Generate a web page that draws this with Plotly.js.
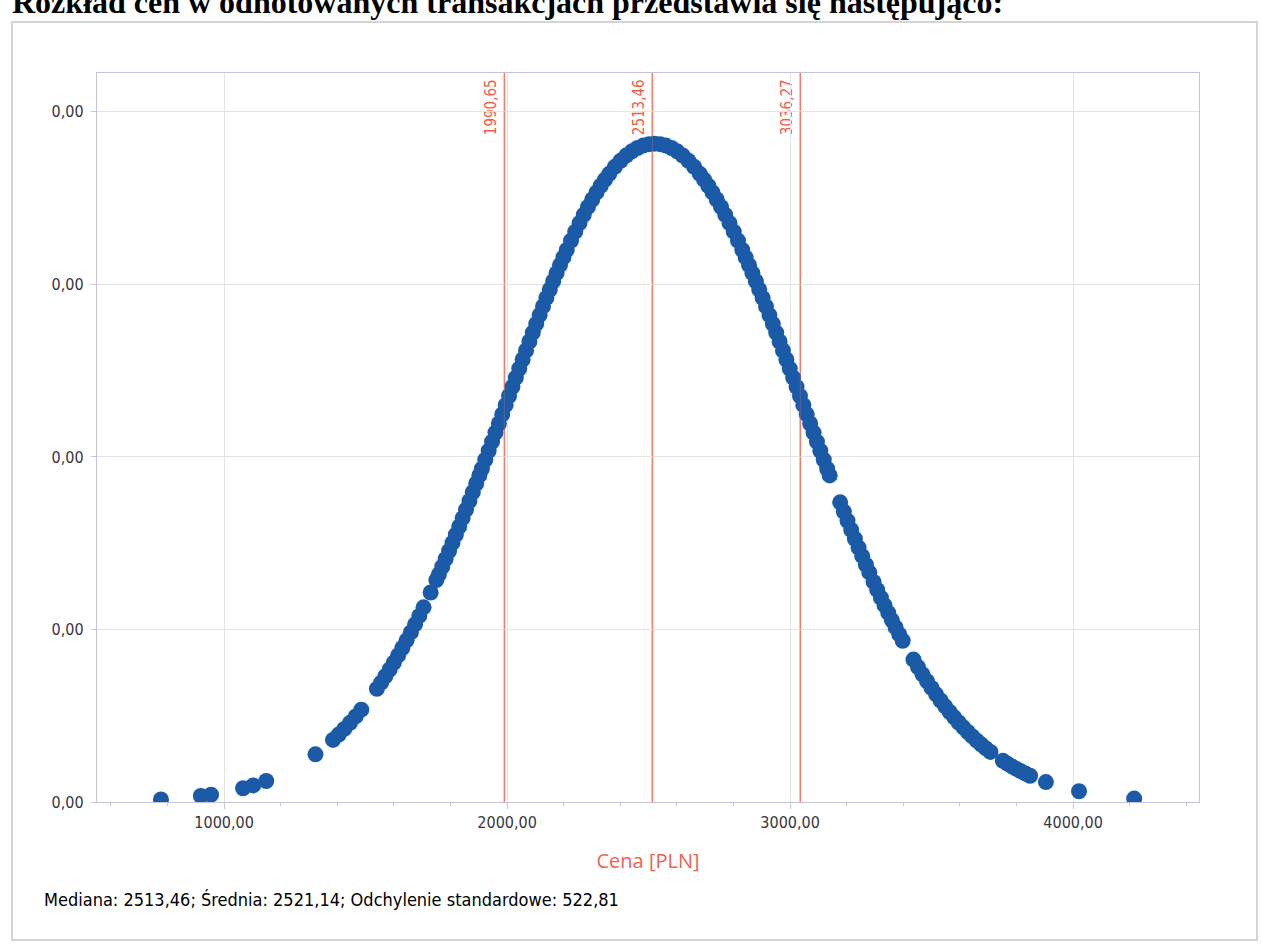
<!DOCTYPE html>
<html>
<head>
<meta charset="utf-8">
<script src="https://cdn.plot.ly/plotly-3.0.1.min.js"></script>
<style>html,body{margin:0;padding:0;background:#fff;}#chart{width:1262px;height:946px;}</style>
</head>
<body>
<div id="chart"></div>
<script>
// ---- data ----
// left tail (sparse transactions)
const leftTailX = [777, 918, 954, 1067, 1103, 1149, 1323, 1385, 1405, 1425, 1445, 1465, 1485,
  1540, 1555, 1570, 1585, 1600, 1615, 1630, 1645, 1660, 1675, 1690, 1705, 1730];
const leftTailY = [2.922e-6, 6.929e-6, 8.538e-6, 1.5941e-5, 1.9265e-5, 2.4364e-5, 5.522e-5,
  7.195e-5, 7.815e-5, 8.471e-5, 9.173e-5, 9.916e-5, 1.0706e-4,
  1.3116e-4, 1.3834e-4, 1.4580e-4, 1.5356e-4, 1.6158e-4, 1.6990e-4, 1.7849e-4, 1.8736e-4,
  1.9652e-4, 2.0594e-4, 2.1566e-4, 2.2560e-4, 2.4282e-4];

// rising slope up to the peak
const riseX = [1750, 1759, 1771, 1783, 1795, 1807, 1819, 1831, 1843, 1855, 1867, 1879, 1891, 1902,
  1911, 1923, 1935, 1947, 1959, 1971, 1983, 1995, 2007, 2019, 2031, 2043, 2055, 2067, 2079, 2091,
  2103, 2115, 2127, 2139, 2151, 2163, 2175, 2187, 2199, 2211, 2226, 2241, 2256, 2271, 2286, 2301,
  2316, 2331, 2346, 2361, 2381, 2401, 2421, 2441, 2461, 2481, 2501, 2521];
const riseY = [2.5721e-4, 2.6378e-4, 2.7268e-4, 2.8173e-4, 2.9094e-4, 3.0028e-4, 3.0976e-4, 3.1937e-4,
  3.2911e-4, 3.3896e-4, 3.4893e-4, 3.5900e-4, 3.6916e-4, 3.7856e-4, 3.8629e-4, 3.9668e-4, 4.0712e-4,
  4.1763e-4, 4.2817e-4, 4.3874e-4, 4.4936e-4, 4.5998e-4, 4.7060e-4, 4.8122e-4, 4.9181e-4, 5.0237e-4,
  5.1289e-4, 5.2336e-4, 5.3375e-4, 5.4407e-4, 5.5430e-4, 5.6442e-4, 5.7442e-4, 5.8429e-4, 5.9402e-4,
  6.0358e-4, 6.1298e-4, 6.2220e-4, 6.3123e-4, 6.4004e-4, 6.5076e-4, 6.6111e-4, 6.7107e-4, 6.8062e-4,
  6.8974e-4, 6.9841e-4, 7.0660e-4, 7.1430e-4, 7.2149e-4, 7.2816e-4, 7.3619e-4, 7.4323e-4, 7.4924e-4,
  7.5419e-4, 7.5806e-4, 7.6084e-4, 7.6251e-4, 7.6307e-4];

// falling slope after the peak
const fallX = [2541, 2561, 2581, 2601, 2621, 2641, 2661, 2681, 2696, 2711, 2726, 2741, 2756, 2771,
  2786, 2801, 2816, 2831, 2843, 2855, 2867, 2879, 2891, 2903, 2915, 2927, 2939, 2951, 2963, 2975,
  2987, 2999, 3011, 3023, 3035, 3047, 3059, 3071, 3083, 3095, 3107, 3119, 3131, 3140];
const fallY = [7.6251e-4, 7.6084e-4, 7.5806e-4, 7.5419e-4, 7.4924e-4, 7.4323e-4, 7.3619e-4, 7.2816e-4,
  7.2149e-4, 7.1430e-4, 7.0660e-4, 6.9841e-4, 6.8974e-4, 6.8062e-4, 6.7107e-4, 6.6111e-4, 6.5076e-4,
  6.4004e-4, 6.3123e-4, 6.2220e-4, 6.1298e-4, 6.0358e-4, 5.9402e-4, 5.8429e-4, 5.7442e-4, 5.6442e-4,
  5.5430e-4, 5.4407e-4, 5.3375e-4, 5.2336e-4, 5.1289e-4, 5.0237e-4, 4.9181e-4, 4.8122e-4, 4.7060e-4,
  4.5998e-4, 4.4936e-4, 4.3874e-4, 4.2817e-4, 4.1763e-4, 4.0712e-4, 3.9668e-4, 3.8629e-4, 3.7856e-4];

// right tail (clusters of transactions)
const rightTailX = [3177, 3190, 3203, 3216, 3229, 3242, 3255, 3268, 3280,
  3295, 3308, 3321, 3334, 3347, 3360, 3373, 3386, 3398,
  3436, 3452, 3468, 3484, 3500, 3516, 3532, 3548, 3564, 3580, 3596, 3612, 3628, 3644, 3660, 3676, 3692, 3708,
  3752, 3768, 3784, 3800, 3816, 3832, 3848, 3904, 4021, 4216];
const rightTailY = [3.4738e-4, 3.3660e-4, 3.2597e-4, 3.1546e-4, 3.0511e-4, 2.9492e-4, 2.8490e-4, 2.7504e-4, 2.6609e-4,
  2.5514e-4, 2.4584e-4, 2.3674e-4, 2.2783e-4, 2.1912e-4, 2.1062e-4, 2.0231e-4, 1.9422e-4, 1.8693e-4,
  1.6504e-4, 1.5636e-4, 1.4800e-4, 1.3995e-4, 1.3222e-4, 1.2480e-4, 1.1768e-4, 1.1087e-4, 1.0435e-4,
  9.8124e-5, 9.2185e-5, 8.6523e-5, 8.1131e-5, 7.6006e-5, 7.1135e-5, 6.6518e-5, 6.2139e-5, 5.7999e-5,
  4.7741e-5, 4.4401e-5, 4.1256e-5, 3.8297e-5, 3.5519e-5, 3.2911e-5, 3.0465e-5, 2.3080e-5, 1.2453e-5, 3.984e-6];

// reference lines (median - sd, median, median + sd)
const refLineX = [1990.65, 2513.46, 3036.27];
const refLineLabels = ['1990,65', '2513,46', '3036,27'];

const xTickVals = [1000, 2000, 3000, 4000];
const yTickVals = [0, 0.0002, 0.0004, 0.0006, 0.0008];

const axisTitle = 'Cena [PLN]';
const headingText = 'Rozkład cen w odnotowanych transakcjach przedstawia się następująco:';
const statsText = 'Mediana: 2513,46; Średnia: 2521,14; Odchylenie standardowe: 522,81';

// ---- chart ----
const allX = leftTailX.concat(riseX, fallX, rightTailX);
const allY = leftTailY.concat(riseY, fallY, rightTailY);

const narrow = 'Liberation Sans Narrow, DejaVu Sans Condensed, Roboto, sans-serif';
const tickFont = {family: narrow, size: 16, color: '#36363f'};
const frameCol = '#c4c4d6';
const lineRed = '#f47a68';

const trace = {
  x: allX, y: allY, type: 'scatter', mode: 'markers',
  marker: {size: 16, color: '#1a5aa7', line: {width: 0}},
  cliponaxis: true, hoverinfo: 'x+y'
};

const shapes = [];
refLineX.forEach((v, i) => {
  // the line itself (below the markers)
  shapes.push({
    type: 'line', xref: 'x', yref: 'paper', x0: v, x1: v, y0: 0, y1: 1,
    layer: 'below', line: {color: lineRed, width: 1.5}
  });
  // label carrier (invisible), label centred near the top of the plot
  shapes.push({
    type: 'line', xref: 'x', yref: 'paper', x0: v, x1: v, y0: 0, y1: 0.953,
    layer: 'below', line: {color: 'rgba(0,0,0,0)', width: 1},
    label: {text: refLineLabels[i], textposition: 'end', padding: 5,
      font: {size: 15, color: '#f25a48', family: narrow}}
  });
  // faint trace of the line over the markers
  shapes.push({
    type: 'line', xref: 'x', yref: 'paper', x0: v, x1: v, y0: 0, y1: 1,
    layer: 'above', opacity: 0.25, line: {color: lineRed, width: 1.2}
  });
});
// outer chart frame
shapes.push({type: 'rect', xref: 'paper', yref: 'paper', x0: -0.0771, x1: 1.0526, y0: -0.1893, y1: 1.0700,
  layer: 'below', line: {color: '#d4d4d4', width: 2}});

const layout = {
  width: 1262, height: 946,
  margin: {l: 97, r: 63, t: 73, b: 144},
  paper_bgcolor: '#ffffff', plot_bgcolor: '#ffffff',
  separators: ', ',
  showlegend: false,
  xaxis: {
    range: [551, 4445], tickvals: xTickVals, tickformat: '.2f',
    showgrid: true, gridcolor: '#e4e4e4', gridwidth: 1,
    showline: true, linecolor: frameCol, linewidth: 1.2, mirror: true,
    ticks: 'outside', ticklen: 6, tickcolor: frameCol,
    minor: {dtick: 200, tick0: 0, ticks: 'outside', ticklen: 3, tickcolor: frameCol, showgrid: false},
    tickfont: tickFont, zeroline: false,
    title: {text: axisTitle, font: {family: 'Open Sans, sans-serif', size: 20, color: '#f2604f'}, standoff: 22}
  },
  yaxis: {
    range: [0, 0.000845], tickvals: yTickVals, tickformat: '.2f',
    showgrid: true, gridcolor: '#e4e4e4', gridwidth: 1,
    showline: true, linecolor: frameCol, linewidth: 1.2, mirror: true,
    ticks: 'outside', ticklen: 5, tickcolor: frameCol,
    tickfont: tickFont, zeroline: false, ticklabelstandoff: 4
  },
  shapes: shapes,
  annotations: [
    {text: headingText, xref: 'paper', yref: 'paper', x: -0.079, y: 1.0968, xanchor: 'left', yanchor: 'middle',
      showarrow: false, font: {family: 'Liberation Serif, DejaVu Serif, serif', size: 32, weight: 'bold', color: '#000'}},
    {text: statsText, xref: 'paper', yref: 'paper', x: -0.0499, y: -0.1344, xanchor: 'left', yanchor: 'middle',
      showarrow: false, font: {family: narrow, size: 18, color: '#000'}}
  ]
};

Plotly.newPlot('chart', [trace], layout, {displayModeBar: false, staticPlot: true});
</script>
</body>
</html>
